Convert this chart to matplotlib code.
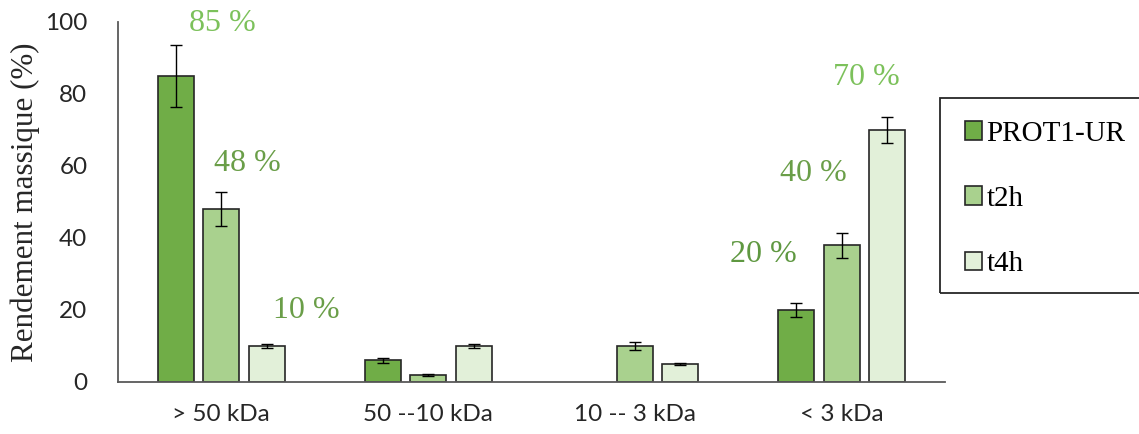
import matplotlib
matplotlib.use("Agg")
import matplotlib.pyplot as plt
import numpy as np
from matplotlib.patches import Rectangle

categories = ["> 50 kDa", "50 --10 kDa", "10 -- 3 kDa", "< 3 kDa"]
series_names = ["PROT1-UR", "t2h", "t4h"]
prot1_ur = [85.0, 6.0, 0.0, 20.0]
t2h = [48.0, 2.0, 10.0, 38.0]
t4h = [10.0, 10.0, 5.0, 70.0]
prot1_ur_err = [8.5, 0.6, 0.0, 1.9]
t2h_err = [4.8, 0.2, 1.2, 3.5]
t4h_err = [0.6, 0.6, 0.2, 3.5]
yticks = [0, 20, 40, 60, 80, 100]

# annotation labels (category index + offset, y in data units)
annot_texts = ["85 %", "48 %", "10 %", "20 %", "40 %", "70 %"]
annot_cat = [0, 0, 0, 3, 3, 3]
annot_dx = [0.005, 0.126, 0.41, -0.38, -0.135, 0.121]
annot_y = [99.7, 60.8, 20.0, 35.5, 58.0, 84.7]

colors = ["#70AD47", "#A9D18E", "#E2F0D9"]
annot_colors = ["#7CC15B", "#6A9E48", "#6A9E48", "#5F9841", "#6A9E48", "#7CC15B"]

fig = plt.figure(figsize=(11.39, 4.34), dpi=100)
ax = fig.add_axes([118/1139, 1-382/434, (945-118)/1139, (382-22)/434])

x = np.arange(len(categories))
width = 0.174
step = 0.22
all_vals = [prot1_ur, t2h, t4h]
all_errs = [prot1_ur_err, t2h_err, t4h_err]
handles = []
for i, (vals, errs) in enumerate(zip(all_vals, all_errs)):
    pos = x + (i - 1) * step
    vals_a = np.array(vals)
    errs_a = np.array(errs)
    mask = vals_a > 0
    h = ax.bar(pos[mask], vals_a[mask], width=width, color=colors[i],
               edgecolor="#262626", linewidth=1.2, label=series_names[i], zorder=2)
    ax.errorbar(pos[mask], vals_a[mask], yerr=errs_a[mask], fmt="none",
                ecolor="black", elinewidth=1.0, capsize=4.5, capthick=1.0, zorder=3)
    handles.append(h)

for t, c, dx, yv, col in zip(annot_texts, annot_cat, annot_dx, annot_y, annot_colors):
    ax.text(c + dx, yv, t, ha="center", va="center",
            fontsize=23, family="Liberation Serif", color=col, clip_on=False)

ax.set_xlim(-0.5, 3.5)
ax.set_ylim(0, 100)
ax.set_yticks(yticks)
ax.set_xticks(x)
ax.set_xticklabels(categories, family="Lato", fontsize=17.5)
ax.set_yticklabels([str(v) for v in yticks], family="Lato", fontsize=17.5)
ax.tick_params(axis="both", length=0, colors="#262626")
ax.tick_params(axis="y", pad=22)
ax.tick_params(axis="x", pad=16)
for sp in ["top", "right"]:
    ax.spines[sp].set_visible(False)
for sp in ["left", "bottom"]:
    ax.spines[sp].set_color("#595959")
    ax.spines[sp].set_linewidth(1.3)
ax.set_ylabel("Rendement massique (%)", family="Liberation Serif", fontsize=22.3,
              color="#262626", labelpad=4)

# legend frame
fig.patches.append(Rectangle((940/1139, 1-293/434), (1200-940)/1139, (293-98)/434,
                             transform=fig.transFigure, fill=False,
                             edgecolor="#262626", linewidth=1.3))
leg = fig.legend(handles, series_names, loc="upper left",
                 bbox_to_anchor=(953/1139, 1-109/434), frameon=False,
                 prop={"family": "Liberation Serif", "size": 21},
                 handlelength=0.6, handleheight=0.6, handletextpad=0.15,
                 labelspacing=1.35, borderaxespad=0)

fig.savefig("out.png", dpi=100)
